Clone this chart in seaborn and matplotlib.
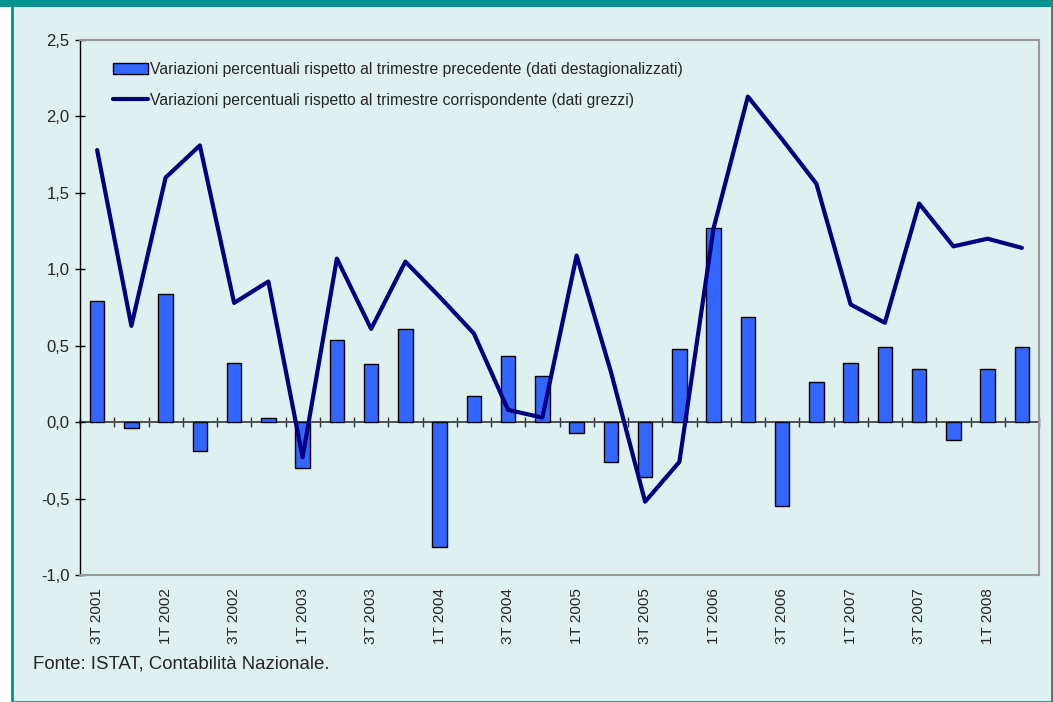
import matplotlib.pyplot as plt
import matplotlib.patches as mpatches
import numpy as np
import pandas as pd
import seaborn as sns

trimestri = [
    "3T 2001", "4T 2001",
    "1T 2002", "2T 2002", "3T 2002", "4T 2002",
    "1T 2003", "2T 2003", "3T 2003", "4T 2003",
    "1T 2004", "2T 2004", "3T 2004", "4T 2004",
    "1T 2005", "2T 2005", "3T 2005", "4T 2005",
    "1T 2006", "2T 2006", "3T 2006", "4T 2006",
    "1T 2007", "2T 2007", "3T 2007", "4T 2007",
    "1T 2008", "2T 2008",
]

var_congiunturale = [
    0.79, -0.04, 0.84, -0.19, 0.39, 0.03, -0.30, 0.54, 0.38, 0.61,
    -0.82, 0.17, 0.43, 0.30, -0.07, -0.26, -0.36, 0.48, 1.27, 0.69,
    -0.55, 0.26, 0.39, 0.49, 0.35, -0.12, 0.35, 0.49,
]

var_tendenziale = [
    1.78, 0.63, 1.60, 1.81, 0.78, 0.92, -0.23, 1.07, 0.61, 1.05,
    0.82, 0.58, 0.08, 0.03, 1.09, 0.33, -0.52, -0.26, 1.27, 2.13,
    1.85, 1.56, 0.77, 0.65, 1.43, 1.15, 1.20, 1.14,
]

y_ticks = [-1.0, -0.5, 0.0, 0.5, 1.0, 1.5, 2.0, 2.5]

label_bar = "Variazioni percentuali rispetto al trimestre precedente (dati destagionalizzati)"
label_line = "Variazioni percentuali rispetto al trimestre corrispondente (dati grezzi)"
fonte = "Fonte: ISTAT, Contabilità Nazionale."

df = pd.DataFrame({
    "trimestre": trimestri,
    "pos": np.arange(len(trimestri)),
    "cong": var_congiunturale,
    "tend": var_tendenziale,
})

BG = "#DEF0EF"
TEAL = "#009490"
BAR = "#3366FF"
NAVY = "#000080"

sns.set_theme(style="white")
plt.rcParams["font.family"] = ["Liberation Sans", "DejaVu Sans"]

fig = plt.figure(figsize=(10.53, 7.02), dpi=100)
fig.patch.set_facecolor("white")

# panel background with teal frame
fig.patches.append(mpatches.Rectangle(
    (12 / 1053, 0), 1 - 12 / 1053 - 1 / 1053, 1, transform=fig.transFigure,
    facecolor=BG, edgecolor=TEAL, linewidth=2, zorder=-2))
fig.patches.append(mpatches.Rectangle(
    (0, 1 - 7 / 702), 1, 7 / 702, transform=fig.transFigure,
    facecolor=TEAL, edgecolor="none", zorder=-1))

ax = fig.add_axes([80 / 1053, 1 - 575 / 702, 959 / 1053, 535 / 702])
ax.set_facecolor(BG)

sns.barplot(data=df, x="pos", y="cong", native_scale=True, width=0.42,
            color=BAR, saturation=1, edgecolor="black", linewidth=1,
            label=label_bar, ax=ax)
sns.lineplot(data=df, x="pos", y="tend", color=NAVY, linewidth=3,
             label=label_line, ax=ax)

ax.set_xlim(-0.5, len(trimestri) - 0.5)
ax.set_ylim(-1.0, 2.5)

ax.set_yticks(y_ticks)
ax.set_yticklabels([f"{v:.1f}".replace(".", ",") for v in y_ticks], fontsize=12)
ax.tick_params(axis="y", direction="inout", length=7, width=1, color="black",
               left=True, pad=4)

ax.set_xticks(df["pos"][::2])
ax.set_xticklabels(df["trimestre"][::2], rotation=90, fontsize=11)
ax.tick_params(axis="x", length=0, pad=9.5)
ax.set_xlabel("")
ax.set_ylabel("")

for side in ["top", "right", "bottom"]:
    ax.spines[side].set_color("#999999")
    ax.spines[side].set_linewidth(1.5)
ax.spines["left"].set_color("black")
ax.spines["left"].set_linewidth(1)

# category axis crossing at zero
sec = ax.secondary_xaxis(0, transform=ax.transData)
sec.set_xticks(np.arange(-0.5, len(trimestri), 1.0))
sec.set_xticklabels([])
sec.tick_params(direction="inout", length=7, width=1, color="#333333")
sec.spines["bottom"].set_color("#444444")
sec.spines["bottom"].set_linewidth(1.3)

handles, labels = ax.get_legend_handles_labels()
order = [labels.index(label_bar), labels.index(label_line)]
leg = ax.legend([handles[i] for i in order], [labels[i] for i in order],
                loc="upper left", bbox_to_anchor=(113 / 1053, 1 - 62 / 702),
                bbox_transform=fig.transFigure, frameon=False, fontsize=11.3,
                handlelength=2.2, handletextpad=0.15, labelspacing=1.0,
                borderaxespad=0, borderpad=0)

fig.text(33 / 1053, 1 - 664 / 702, fonte, fontsize=13.4, va="center", ha="left")

plt.savefig("out.png", dpi=100)
